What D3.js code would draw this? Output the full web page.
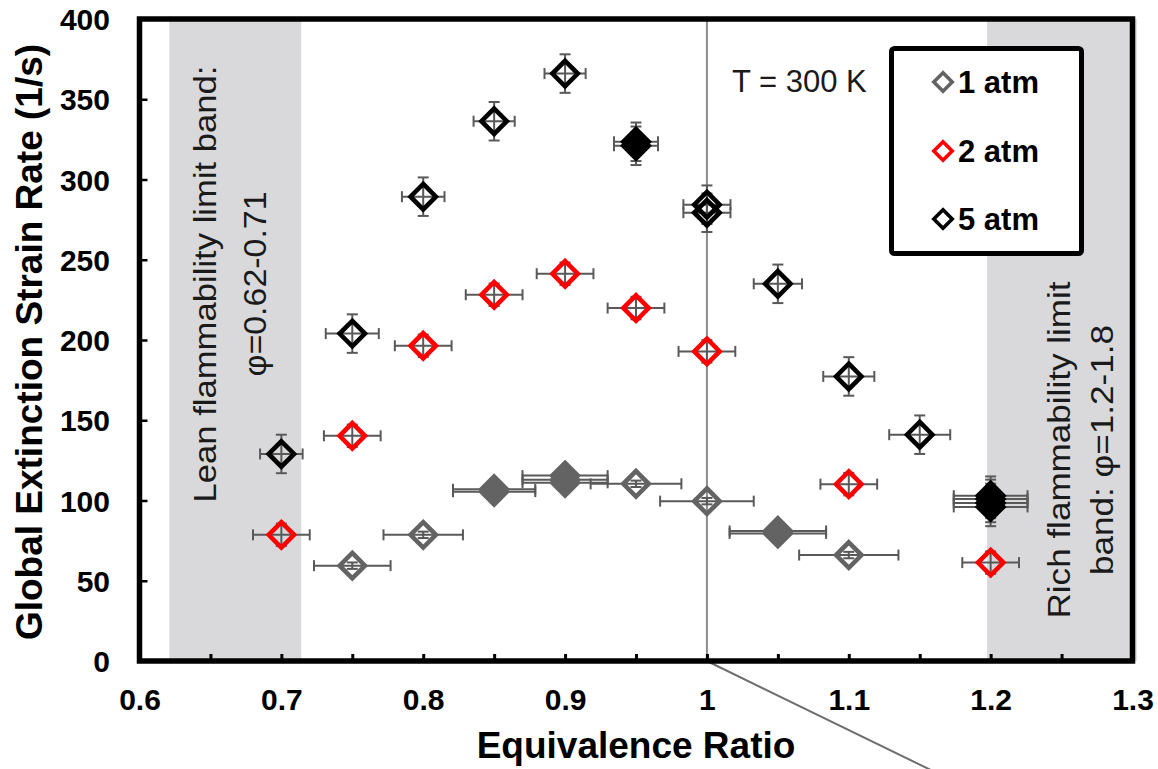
<!DOCTYPE html>
<html>
<head>
<meta charset="utf-8">
<script src="https://cdn.jsdelivr.net/npm/d3@7"></script>
<style>
  html, body { margin: 0; padding: 0; background: #fff; }
  svg { display: block; }
</style>
</head>
<body>
<svg id="chart" width="1158" height="769"></svg>
<script>
// ---------------- DATA ----------------
const xTickValues = [0.6, 0.7, 0.8, 0.9, 1.0, 1.1, 1.2, 1.3];
const xTickLabels = ["0.6", "0.7", "0.8", "0.9", "1", "1.1", "1.2", "1.3"];
const xMinorTicks = [0.65, 0.7, 0.75, 0.8, 0.85, 0.9, 0.95, 1.0, 1.05, 1.1, 1.15, 1.2, 1.25];
const yTickValues = [0, 50, 100, 150, 200, 250, 300, 350, 400];

// 1 atm
const phi1  = [0.75, 0.8, 0.85, 0.85, 0.9, 0.9, 0.9, 0.95, 1.0, 1.05, 1.05, 1.1];
const k1    = [59.4, 78.6, 105.5, 107, 111, 113, 115.5, 110.4, 99.6, 79.5, 81, 66];
const xerr1 = [0.027, 0.028, 0.029, 0.029, 0.03, 0.03, 0.03, 0.032, 0.033, 0.034, 0.034, 0.035];
const yerr1 = [2, 2, 2, 2, 2, 2, 2, 2, 2, 2, 2, 2];

// 2 atm
const phi2  = [0.7, 0.75, 0.8, 0.85, 0.9, 0.95, 1.0, 1.1, 1.2];
const k2    = [78.6, 140.3, 196.4, 228.2, 241.3, 219.9, 192.9, 110.2, 61.3];
const xerr2 = [0.02, 0.02, 0.02, 0.02, 0.02, 0.02, 0.02, 0.02, 0.02];
const yerr2 = [7, 7, 7, 7, 7, 7, 7, 7, 7];

// 5 atm
const phi5  = [0.7, 0.75, 0.8, 0.85, 0.9, 0.95, 0.95, 1.0, 1.0, 1.05, 1.1, 1.15, 1.2, 1.2, 1.2, 1.2];
const k5    = [129, 204, 289.3, 336.3, 366, 321, 323.5, 279.3, 284.3, 235, 177.3, 141, 96, 98.5, 101, 103];
const xerr5 = [0.015, 0.0187, 0.015, 0.0145, 0.0145, 0.0155, 0.0155, 0.0166, 0.0166, 0.017, 0.018, 0.0215, 0.026, 0.026, 0.026, 0.026];
const yerr5 = [12, 12, 12, 12, 12, 12, 12, 12, 12, 12, 12, 12, 12, 12, 12, 12];

const seriesNames = ["1 atm", "2 atm", "5 atm"];
const seriesColors = ["#636363", "#ff0000", "#000000"];

const leanBand = [0.621, 0.714];
const richBand = [1.1975, 1.303];
const refLineX = 1.0;
const annotLine = [[1.0, 0], [1.165, -71]];

const leanText = ["Lean flammability limit band:", "\u03c6=0.62-0.71"];
const richText = ["Rich flammability limit", "band:  \u03c6=1.2-1.8"];
const tempText = "T = 300 K";
const xTitle = "Equivalence Ratio";
const yTitle = "Global Extinction Strain Rate (1/s)";

// ---------------- CHART ----------------
const svg = d3.select("#chart");
const x = d3.scaleLinear().domain([0.6, 1.3]).range([139.5, 1132.5]);
const y = d3.scaleLinear().domain([0, 400]).range([661, 19]);

// bands
const bandColor = "#d9d9db";
[leanBand, richBand].forEach(b => {
  svg.append("rect")
    .attr("x", x(b[0])).attr("y", y(400))
    .attr("width", x(b[1]) - x(b[0])).attr("height", y(0) - y(400))
    .attr("fill", bandColor);
});

// band texts
function rotText(lines, baselines, cy, size, lengths, family) {
  lines.forEach((t, i) => {
    svg.append("text")
      .attr("transform", `translate(${baselines[i]},${cy}) rotate(-90)`)
      .attr("text-anchor", "middle")
      .attr("font-family", family)
      .attr("font-size", size)
      .attr("fill", "#1a1a1a")
      .attr("textLength", lengths[i])
      .attr("lengthAdjust", "spacingAndGlyphs")
      .text(t);
  });
}
rotText(leanText, [216, 266], 284, 31, [437, 185], "Liberation Sans, Arial, sans-serif");
rotText(richText, [1070, 1113], 450, 32, [337, 250], "Liberation Sans, Arial, sans-serif");

// reference line at phi = 1
svg.append("line")
  .attr("x1", x(refLineX)).attr("x2", x(refLineX))
  .attr("y1", y(400)).attr("y2", y(0))
  .attr("stroke", "#8c8c8c").attr("stroke-width", 2);

// annotation diagonal
svg.append("line")
  .attr("x1", x(annotLine[0][0])).attr("y1", y(annotLine[0][1]))
  .attr("x2", x(annotLine[1][0])).attr("y2", y(annotLine[1][1]))
  .attr("stroke", "#6e6e6e").attr("stroke-width", 2);

// temperature label
svg.append("text")
  .attr("x", 732).attr("y", 92)
  .attr("font-family", "Liberation Sans, Arial, sans-serif")
  .attr("font-size", 31)
  .attr("fill", "#1a1a1a")
  .text(tempText);

// series
const series = [
  { phi: phi1, k: k1, xe: xerr1, ye: yerr1 },
  { phi: phi2, k: k2, xe: xerr2, ye: yerr2 },
  { phi: phi5, k: k5, xe: xerr5, ye: yerr5 }
];

const errColor = "#595959";
const cap = 5.5;
const diamondR = 12.7;
function diamondPath(cx, cy, r) {
  return `M${cx},${cy - r}L${cx + r},${cy}L${cx},${cy + r}L${cx - r},${cy}Z`;
}

series.forEach((s, si) => {
  const pts = s.phi.map((p, i) => ({ phi: p, k: s.k[i], xe: s.xe[i], ye: s.ye[i] }));
  // groups of overlapping repeated measurements appear filled
  const groups = d3.group(pts, d => d.phi);
  pts.forEach(d => {
    const g = groups.get(d.phi);
    const ext = d3.extent(g, e => e.k);
    d.filled = g.length >= 3 || (g.length === 2 && ext[1] - ext[0] <= 3);
  });

  const eg = svg.append("g").attr("stroke", errColor).attr("stroke-width", 2).attr("fill", "none");
  pts.forEach(d => {
    const cx = x(d.phi), cy = y(d.k);
    const x0 = x(d.phi - d.xe), x1 = x(d.phi + d.xe);
    const y0 = y(d.k - d.ye), y1 = y(d.k + d.ye);
    eg.append("line").attr("x1", x0).attr("x2", x1).attr("y1", cy).attr("y2", cy);
    eg.append("line").attr("x1", x0).attr("x2", x0).attr("y1", cy - cap).attr("y2", cy + cap);
    eg.append("line").attr("x1", x1).attr("x2", x1).attr("y1", cy - cap).attr("y2", cy + cap);
    eg.append("line").attr("x1", cx).attr("x2", cx).attr("y1", y0).attr("y2", y1);
    eg.append("line").attr("x1", cx - cap).attr("x2", cx + cap).attr("y1", y0).attr("y2", y0);
    eg.append("line").attr("x1", cx - cap).attr("x2", cx + cap).attr("y1", y1).attr("y2", y1);
  });

  svg.append("g").selectAll("path").data(pts).join("path")
    .attr("d", d => diamondPath(x(d.phi), y(d.k), diamondR))
    .attr("fill", d => d.filled ? seriesColors[si] : "none")
    .attr("stroke", seriesColors[si])
    .attr("stroke-width", 4.6)
    .attr("stroke-linejoin", "miter");
});

// frame
svg.append("rect")
  .attr("x", x(0.6)).attr("y", y(400))
  .attr("width", x(1.3) - x(0.6)).attr("height", y(0) - y(400))
  .attr("fill", "none").attr("stroke", "#000").attr("stroke-width", 5.5);

// minor inward ticks on x
const xt = d3.axisBottom(x).tickValues(xMinorTicks).tickSize(-7).tickFormat("");
const gx = svg.append("g").attr("transform", `translate(0,${y(0)})`).call(xt);
gx.select(".domain").remove();
gx.selectAll(".tick line").attr("stroke", "#000").attr("stroke-width", 3);

// inward ticks on y
const yt = d3.axisLeft(y).tickValues(yTickValues.slice(1, -1)).tickSize(-8).tickFormat("");
const gy = svg.append("g").attr("transform", `translate(${x(0.6)},0)`).call(yt);
gy.select(".domain").remove();
gy.selectAll(".tick line").attr("stroke", "#000").attr("stroke-width", 2.5);

// x tick labels
const xl = d3.axisBottom(x).tickValues(xTickValues).tickSize(0)
  .tickFormat((d, i) => xTickLabels[i]);
const gxl = svg.append("g").attr("transform", `translate(0,${y(0)})`).call(xl);
gxl.select(".domain").remove();
gxl.selectAll(".tick text")
  .attr("font-family", "Liberation Sans, Arial, sans-serif")
  .attr("font-weight", "bold").attr("font-size", 30).attr("fill", "#000")
  .attr("dy", null).attr("y", 49);

// y tick labels
const yl = d3.axisLeft(y).tickValues(yTickValues).tickSize(0).tickFormat(d3.format("d"));
const gyl = svg.append("g").attr("transform", `translate(110,0)`).call(yl);
gyl.select(".domain").remove();
gyl.selectAll(".tick text")
  .attr("font-family", "Liberation Sans, Arial, sans-serif")
  .attr("font-weight", "bold").attr("font-size", 30).attr("fill", "#000")
  .attr("x", 0).attr("dy", null).attr("y", 10.7);

// axis titles
svg.append("text")
  .attr("x", (x(0.6) + x(1.3)) / 2).attr("y", 758)
  .attr("text-anchor", "middle")
  .attr("font-family", "Liberation Sans, Arial, sans-serif")
  .attr("font-weight", "bold").attr("font-size", 37)
  .text(xTitle);
svg.append("text")
  .attr("transform", `translate(42,${(y(0) + y(400)) / 2 + 2}) rotate(-90)`)
  .attr("text-anchor", "middle")
  .attr("font-family", "Liberation Sans, Arial, sans-serif")
  .attr("font-weight", "bold").attr("font-size", 37)
  .text(yTitle);

// legend
const lg = svg.append("g");
lg.append("rect")
  .attr("x", 891.5).attr("y", 48.5).attr("width", 190).attr("height", 205)
  .attr("rx", 3).attr("fill", "#fff").attr("stroke", "#000").attr("stroke-width", 5);
const legendY = [82, 151, 219];
seriesNames.forEach((n, i) => {
  lg.append("path")
    .attr("d", diamondPath(943, legendY[i], 9.2))
    .attr("fill", "none").attr("stroke", seriesColors[i]).attr("stroke-width", 3.6);
  lg.append("text")
    .attr("x", 958).attr("y", legendY[i] + 11)
    .attr("font-family", "Liberation Sans, Arial, sans-serif")
    .attr("font-weight", "bold").attr("font-size", 31)
    .text(n);
});
</script>
</body>
</html>
